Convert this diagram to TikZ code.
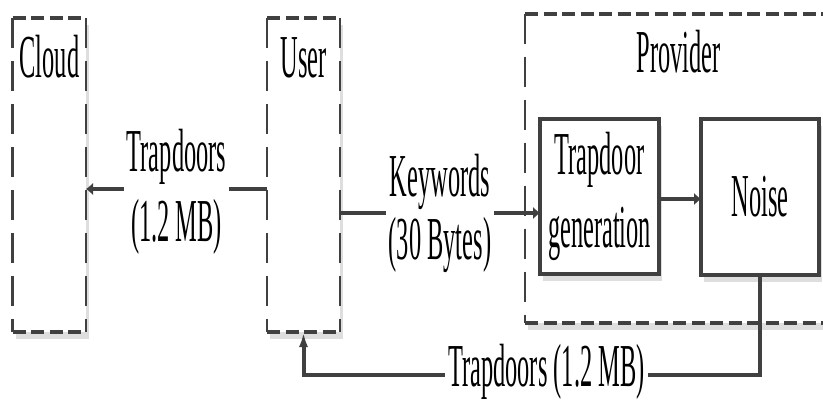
\documentclass[tikz,border=0pt]{standalone}
\usepackage{fontspec}
\setmainfont{Liberation Serif}[FakeStretch=0.4]
\usetikzlibrary{fit,shadows,arrows.meta}
\definecolor{ln}{HTML}{404040}
\begin{document}
\begin{tikzpicture}[x=1pt,y=-1pt,
  shd/.style={drop shadow={shadow xshift=3pt,shadow yshift=-7pt,fill=black!13,opacity=1}},
  region/.style={inner sep=0pt, outer sep=0pt, fill=white, shd},
  hd/.style={draw=ln, line width=4pt, dash pattern=on 13pt off 5.5pt},
  vd/.style={draw=ln, line width=2.8pt, dash pattern=on 30pt off 13pt},
  txt/.style={font=\fontsize{61}{70}\selectfont, inner sep=0pt},
  solidbox/.style={draw=ln, line width=3.8pt, fill=white, inner sep=0pt, outer sep=0pt, shd, txt, align=center,
    minimum width=119pt, minimum height=155pt},
  conn/.style={draw=ln, line width=4pt},
  harrow/.style={-{Latex[length=7pt,width=13pt]}},
  varrow/.style={-{Latex[length=15pt,width=9pt]}},
  lbl/.style={txt, fill=white, inner xsep=3pt, inner ysep=0pt, align=center},
]
\useasboundingbox (0,0) rectangle (823,400);
% regions (dashed groups)
\node[region, fit={(525,13.5) (832,323)}] (provider) {};
\node[region, fit={(12.5,18) (86,332)}] (cloud) {};
\node[region, fit={(267,18) (340,332)}] (user) {};
\foreach \r in {provider,cloud,user}{
  \draw[hd] (\r.north west) -- (\r.north east);
  \draw[hd] (\r.south west) -- (\r.south east);
  \draw[vd] (\r.north west) -- (\r.south west);
  \draw[vd] (\r.north east) -- (\r.south east);
}
\node[txt, anchor=base] (cloudlbl) at (49.5,77) {Cloud};
\node[txt, anchor=base] (userlbl) at (303.5,77) {User};
\node[txt, anchor=base] (providerlbl) at (678.5,72) {Provider};
% inner boxes
\node[solidbox, font=\fontsize{61}{73}\selectfont] (trapgen) at (599.5,196.5) {Trapdoor\\generation};
\node[solidbox, minimum width=118pt, minimum height=156pt] (noise) at (760,197) {Noise};
% connectors
\coordinate (ya) at (0,189);
\coordinate (yb) at (0,213);
\coordinate (yc) at (0,199);
\coordinate (yd) at (0,375);
\draw[conn,harrow] (user.west |- ya) -- node[lbl, yshift=-3pt]{Trapdoors\\(1.2 MB)} (cloud.east |- ya);
\draw[conn,harrow] (user.east |- yb) -- node[lbl, font=\fontsize{61}{63}\selectfont]{Keywords\\(30 Bytes)} (trapgen.west |- yb);
\draw[conn,harrow] (trapgen.east |- yc) -- (noise.west |- yc);
\draw[conn,varrow] (noise.south) -- (noise.south |- yd) -- node[lbl, pos=0.468, yshift=3pt]{Trapdoors (1.2 MB)} (user.south |- yd) -- (user.south);
\end{tikzpicture}
\end{document}
